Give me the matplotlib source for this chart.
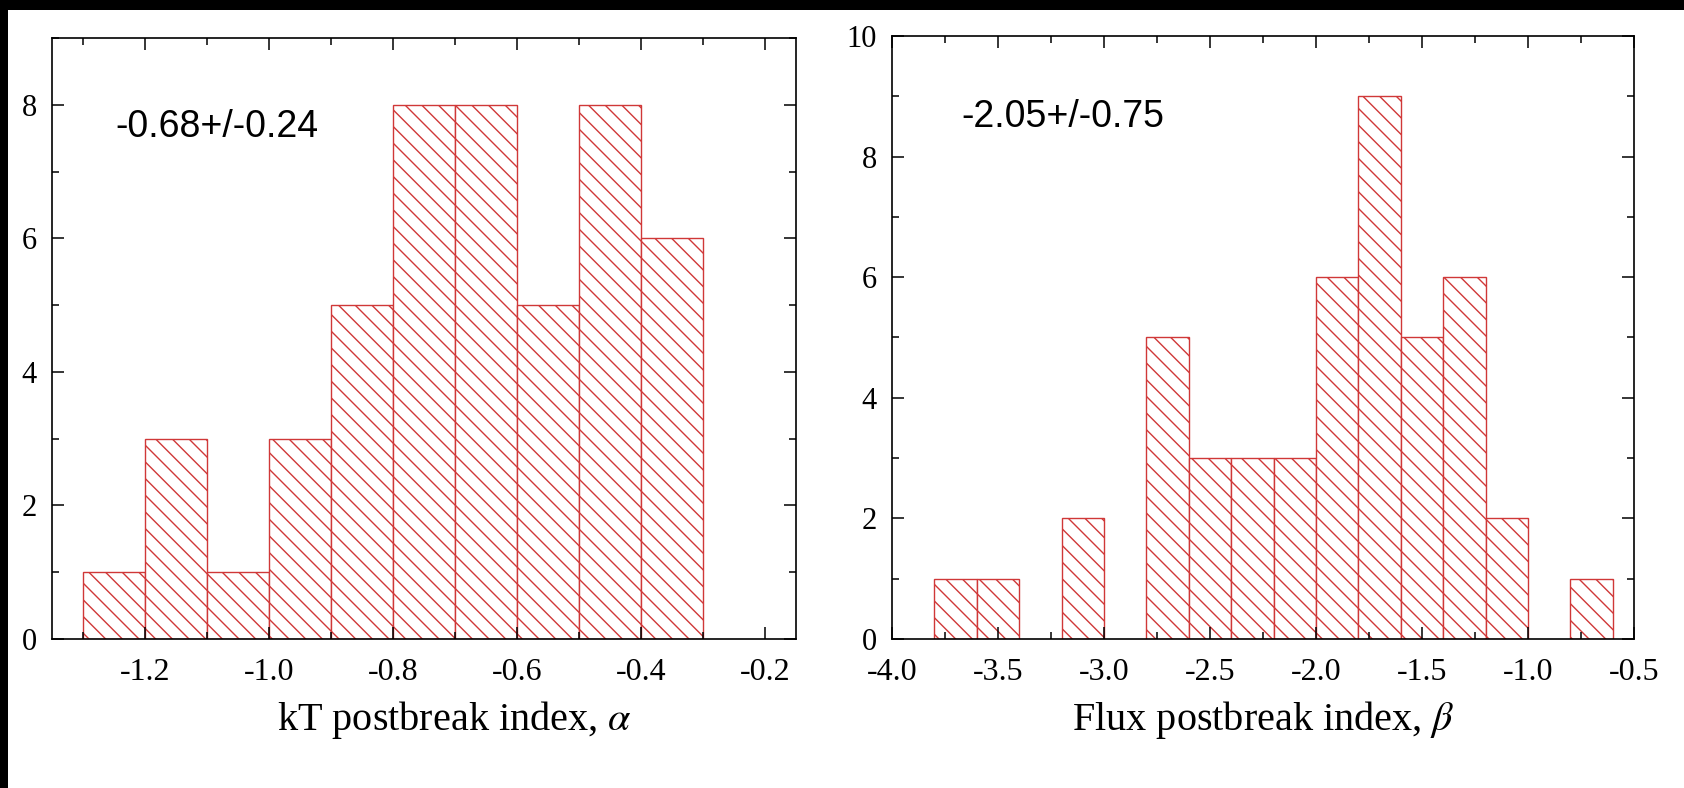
import numpy as np
import matplotlib
matplotlib.use('Agg')
import matplotlib.pyplot as plt
from matplotlib.patches import Rectangle
from matplotlib.ticker import MultipleLocator, FormatStrFormatter

# dados
alpha_edges = [-1.3, -1.2, -1.1, -1.0, -0.9, -0.8, -0.7, -0.6, -0.5, -0.4]
alpha_counts = [1, 3, 1, 3, 5, 8, 8, 5, 8, 6]
alpha_text = '-0.68+/-0.24'

beta_edges = [-3.8, -3.6, -3.4, -3.2, -3.0, -2.8, -2.6, -2.4, -2.2, -2.0,
              -1.8, -1.6, -1.4, -1.2, -1.0, -0.8]
beta_counts = [1, 1, 0, 2, 0, 5, 3, 3, 3, 6, 9, 5, 6, 2, 0, 1]
beta_text = '-2.05+/-0.75'

serif = 'Liberation Serif'
plt.rcParams['font.family'] = [serif, 'DejaVu Serif']
plt.rcParams['axes.unicode_minus'] = False
plt.rcParams['mathtext.fontset'] = 'stix'
plt.rcParams['hatch.linewidth'] = 1.0
plt.rcParams['xtick.labelsize'] = 23
plt.rcParams['ytick.labelsize'] = 22

red = '#d03838'

fig = plt.figure(figsize=(16.84, 7.88), dpi=100, facecolor='black')
# fundo branco com a borda preta em cima e à esquerda
fig.patches.append(Rectangle((8 / 1684, 0), 1, 1 - 10 / 788, transform=fig.transFigure,
                             facecolor='white', edgecolor='none', zorder=-10))

ax1 = fig.add_axes([52 / 1684, 1 - 639 / 788, 744 / 1684, 601 / 788])
ax2 = fig.add_axes([892 / 1684, 1 - 639 / 788, 742 / 1684, 603 / 788])


def draw_hist(ax, edges, counts, width):
    edges = np.array(edges)
    counts = np.array(counts)
    keep = counts > 0
    ax.bar(edges[keep], counts[keep], width=width, align='edge', facecolor='white',
           edgecolor=red, linewidth=1.0, hatch='\\\\')


def style_axes(ax):
    for s in ax.spines.values():
        s.set_linewidth(1.2)
    ax.tick_params(which='both', direction='in', top=True, right=True, width=1.1)
    ax.tick_params(which='major', length=8.5)
    ax.tick_params(which='minor', length=5)
    ax.tick_params(axis='x', which='major', pad=14)
    ax.tick_params(axis='y', which='major', pad=11)


draw_hist(ax1, alpha_edges, alpha_counts, 0.1)
ax1.set_xlim(-1.35, -0.15)
ax1.set_ylim(0, 9)
ax1.xaxis.set_major_locator(MultipleLocator(0.2))
ax1.xaxis.set_minor_locator(MultipleLocator(0.1))
ax1.xaxis.set_major_formatter(FormatStrFormatter('%.1f'))
ax1.yaxis.set_major_locator(MultipleLocator(2))
ax1.yaxis.set_minor_locator(MultipleLocator(1))
style_axes(ax1)
ax1.set_xlabel(r'kT postbreak index, $\alpha$', fontsize=29, labelpad=8)
ax1.xaxis.label.set_x(0.541)
ax1.text(0.085, 0.835, alpha_text, transform=ax1.transAxes, fontsize=27,
         fontfamily='Liberation Sans', va='baseline', ha='left')

draw_hist(ax2, beta_edges, beta_counts, 0.2)
ax2.set_xlim(-4.0, -0.5)
ax2.set_ylim(0, 10)
ax2.xaxis.set_major_locator(MultipleLocator(0.5))
ax2.xaxis.set_minor_locator(MultipleLocator(0.25))
ax2.xaxis.set_major_formatter(FormatStrFormatter('%.1f'))
ax2.yaxis.set_major_locator(MultipleLocator(2))
ax2.yaxis.set_minor_locator(MultipleLocator(1))
style_axes(ax2)
ax2.set_xlabel(r'Flux postbreak index, $\beta$', fontsize=29, labelpad=8)
ax2.text(0.094, 0.849, beta_text, transform=ax2.transAxes, fontsize=27,
         fontfamily='Liberation Sans', va='baseline', ha='left')

fig.savefig('out.png', dpi=100, facecolor=fig.get_facecolor())
